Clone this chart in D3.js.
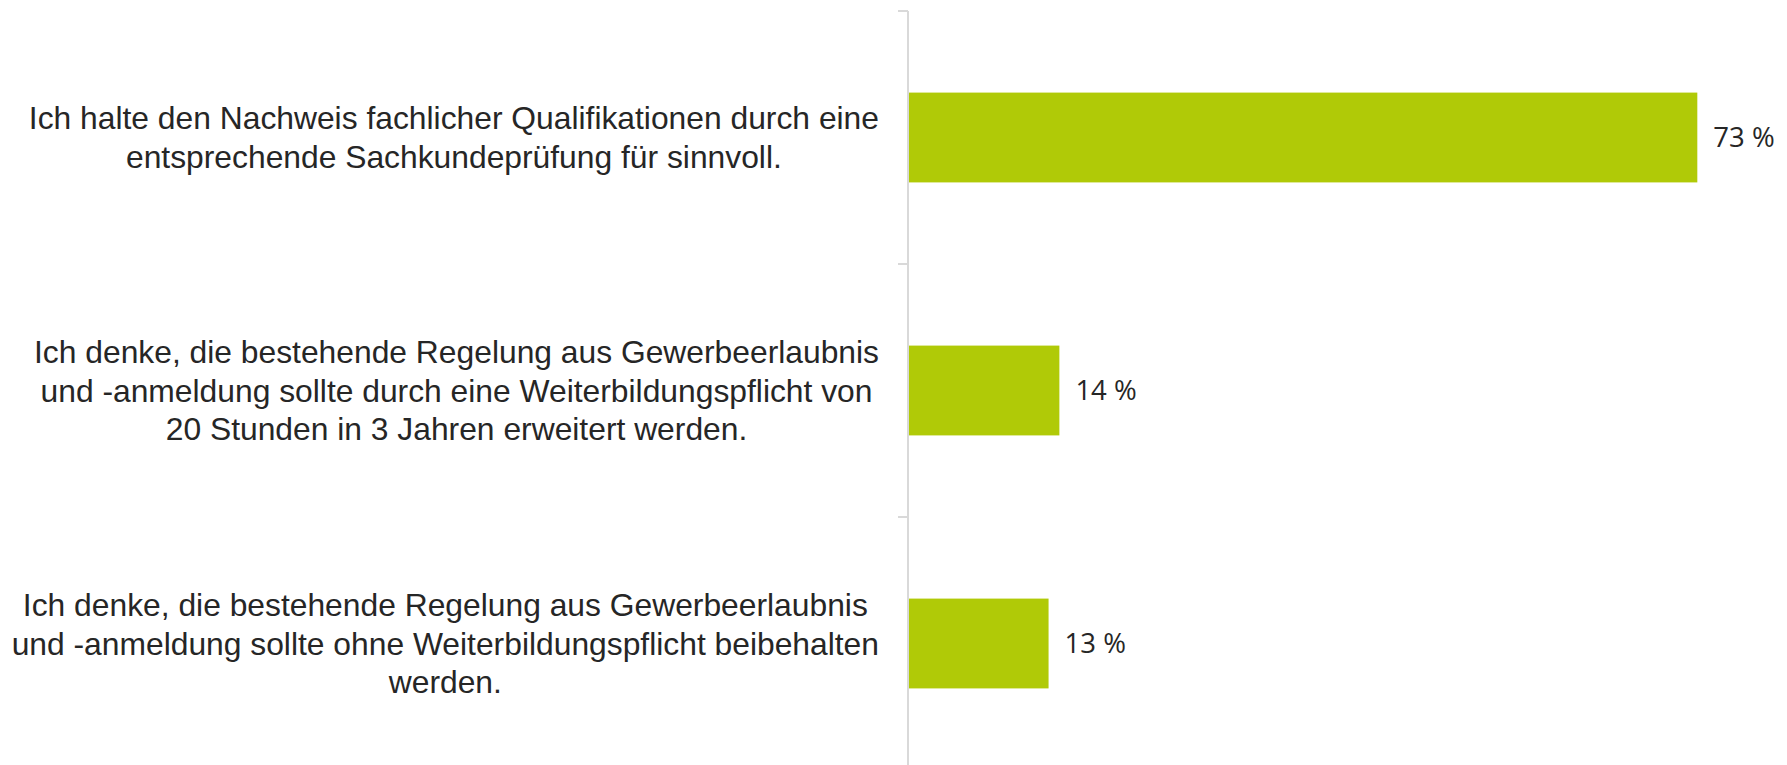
<!DOCTYPE html>
<html lang="de">

<head>
	<title>Sachkunde</title>
	<meta charset="utf-8">
	<script src="https://d3js.org/d3.v7.min.js"></script>
	<style>
		html, body { margin: 0; padding: 0; background: #fff; }
		svg { display: block; }
	</style>
</head>

<body>
	<div id="container1"></div>
	<script>
		// Data
		const categories = [
			["Ich halte den Nachweis fachlicher Qualifikationen durch eine",
				"entsprechende Sachkundeprüfung für sinnvoll."],
			["Ich denke, die bestehende Regelung aus Gewerbeerlaubnis",
				"und -anmeldung sollte durch eine Weiterbildungspflicht von",
				"20 Stunden in 3 Jahren erweitert werden."],
			["Ich denke, die bestehende Regelung aus Gewerbeerlaubnis",
				"und -anmeldung sollte ohne Weiterbildungspflicht beibehalten",
				"werden."]
		];
		const values = [73, 14, 13];
		const valueLabels = ["73 %", "14 %", "13 %"];

		// Chart dimensions
		const width = 1787;
		const height = 765;
		const axisX = 908;
		const lineHeight = 38.7;

		const svg = d3.select("#container1")
			.append("svg")
			.attr("width", width)
			.attr("height", height);

		// Scales
		const xScale = d3.scaleLinear()
			.domain([0, 80])
			.range([axisX, 1773]);

		const yScale = d3.scaleBand()
			.domain(d3.range(categories.length))
			.range([11, 770])
			.padding(0);

		const barHeight = yScale.bandwidth() * 0.355;

		// Axis
		const axis = svg.append("g")
			.attr("transform", `translate(${axisX},0)`)
			.call(d3.axisLeft(yScale).tickSize(0).tickFormat(""));
		axis.select(".domain").remove();

		axis.append("line")
			.attr("y1", yScale.range()[0])
			.attr("y2", yScale.range()[1])
			.attr("stroke", "#d9d9d9")
			.attr("stroke-width", 2);

		axis.selectAll(".bound")
			.data(d3.range(categories.length))
			.join("line")
			.attr("class", "bound")
			.attr("x1", -10)
			.attr("x2", 0)
			.attr("y1", d => yScale(d))
			.attr("y2", d => yScale(d))
			.attr("stroke", "#d9d9d9")
			.attr("stroke-width", 2);

		// Bars
		const groups = svg.append("g")
			.selectAll("g")
			.data(values)
			.join("g")
			.attr("transform", (d, i) => `translate(0, ${yScale(i) + yScale.bandwidth() / 2})`);

		groups.append("rect")
			.attr("x", xScale(0) + 1)
			.attr("y", -barHeight / 2)
			.attr("width", d => xScale(d) - xScale(0) - 1)
			.attr("height", barHeight)
			.attr("fill", "#b0ca07");

		groups.append("text")
			.attr("x", d => xScale(d) + 16)
			.attr("dy", "0.36em")
			.attr("font-family", "'Open Sans', sans-serif")
			.attr("font-size", 27.5)
			.attr("fill", "#262626")
			.text((d, i) => valueLabels[i]);

		// Category labels, lines centred inside a right-aligned block
		const labels = groups.append("text")
			.attr("font-family", "Arial, 'Liberation Sans', sans-serif")
			.attr("font-size", 31.8)
			.attr("fill", "#262626")
			.attr("text-anchor", "middle");

		labels.each(function (d, i) {
			const lines = categories[i];
			const t = d3.select(this);
			const spans = t.selectAll("tspan")
				.data(lines)
				.join("tspan")
				.attr("dy", "0.35em")
				.attr("y", (l, j) => (j - (lines.length - 1) / 2) * lineHeight)
				.text(l => l);
			const maxW = d3.max(spans.nodes(), n => n.getComputedTextLength());
			spans.attr("x", axisX - 29 - maxW / 2);
		});
	</script>
</body>

</html>
